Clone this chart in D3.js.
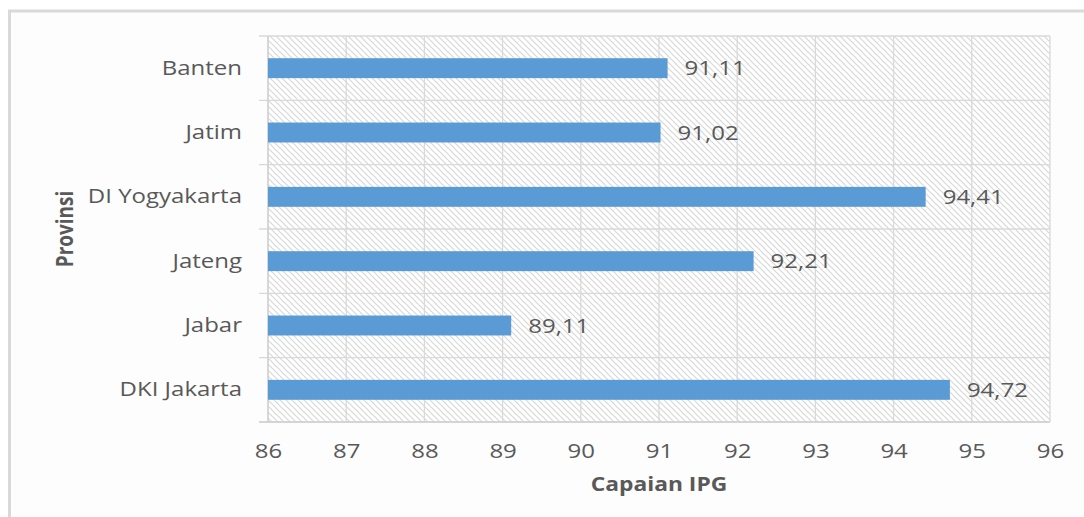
<!DOCTYPE html>
<html>
<head>
<meta charset="utf-8">
<script src="https://cdn.jsdelivr.net/npm/d3@7"></script>
<style>
  html, body { margin: 0; padding: 0; background: #fff; }
  svg { display: block; }
  text { font-family: "Open Sans", sans-serif; fill: #595959; }
</style>
</head>
<body>
<svg id="chart" width="1084" height="517"></svg>
<script>
// Provinces (top to bottom) and their IPG scores
const provinces = ["Banten", "Jatim", "DI Yogyakarta", "Jateng", "Jabar", "DKI Jakarta"];
const ipgValues = [91.11, 91.02, 94.41, 92.21, 89.11, 94.72];
const xTicks = [86, 87, 88, 89, 90, 91, 92, 93, 94, 95, 96];
const xTitle = "Capaian IPG";
const yTitle = "Provinsi";

const data = provinces.map((p, i) => ({ name: p, value: ipgValues[i] }));

const W = 1084, H = 517;
const plot = { left: 268, right: 1050, top: 36, bottom: 422 };
const SX = 1.2; // wide letterforms
const fmt = v => v.toFixed(2).replace(".", ",");

const svg = d3.select("#chart");

// chart frame
svg.append("rect")
  .attr("x", 9.5).attr("y", 11)
  .attr("width", W + 20).attr("height", H + 20)
  .attr("fill", "#fdfdfd")
  .attr("stroke", "#d9d9d9").attr("stroke-width", 3);

// diagonal hatch for the plot background
const defs = svg.append("defs");
const pat = defs.append("pattern")
  .attr("id", "hatch")
  .attr("patternUnits", "userSpaceOnUse")
  .attr("width", 6).attr("height", 6);
pat.append("rect").attr("width", 6).attr("height", 6).attr("fill", "#ffffff");
pat.append("path")
  .attr("d", "M-1,-1 L7,7 M-7,-1 L1,7 M5,-1 L13,7")
  .attr("stroke", "#d6d6d6").attr("stroke-width", 1.1);

const x = d3.scaleLinear()
  .domain([xTicks[0], xTicks[xTicks.length - 1]])
  .range([plot.left, plot.right]);

const y = d3.scaleBand()
  .domain(provinces)
  .range([plot.top, plot.bottom])
  .paddingInner(0.69)
  .paddingOuter(0.345);

const band = (plot.bottom - plot.top) / provinces.length;

svg.append("rect")
  .attr("x", plot.left).attr("y", plot.top)
  .attr("width", plot.right - plot.left).attr("height", plot.bottom - plot.top)
  .attr("fill", "url(#hatch)");

// vertical gridlines
svg.append("g")
  .selectAll("line")
  .data(xTicks)
  .join("line")
  .attr("x1", d => x(d)).attr("x2", d => x(d))
  .attr("y1", plot.top).attr("y2", plot.bottom)
  .attr("stroke", "#d9d9d9").attr("stroke-width", 1.3);

// horizontal gridlines at category boundaries (with short outer ticks)
const bounds = d3.range(provinces.length + 1).map(i => plot.top + i * band);
svg.append("g")
  .selectAll("line")
  .data(bounds)
  .join("line")
  .attr("x1", plot.left - 9).attr("x2", plot.right)
  .attr("y1", d => d).attr("y2", d => d)
  .attr("stroke", "#d9d9d9").attr("stroke-width", 1.3);

// left axis line
svg.append("line")
  .attr("x1", plot.left).attr("x2", plot.left)
  .attr("y1", plot.top).attr("y2", plot.bottom)
  .attr("stroke", "#d0d0d0").attr("stroke-width", 1.3);

// bars
svg.append("g")
  .selectAll("rect")
  .data(data)
  .join("rect")
  .attr("x", x(xTicks[0]))
  .attr("y", d => y(d.name))
  .attr("width", d => x(d.value) - x(xTicks[0]))
  .attr("height", y.bandwidth())
  .attr("fill", "#5b9bd5");

// value labels
svg.append("g")
  .selectAll("text")
  .data(data)
  .join("text")
  .attr("transform", d => `translate(${x(d.value) + 17},${y(d.name) + y.bandwidth() / 2}) scale(${SX},1)`)
  .attr("dy", "0.36em")
  .attr("font-size", 20)
  .text(d => fmt(d.value));

// bottom axis
const xAxis = svg.append("g")
  .attr("transform", `translate(0,${plot.bottom})`)
  .call(d3.axisBottom(x).tickValues(xTicks).tickSize(0).tickPadding(22).tickFormat(d3.format("d")));
xAxis.select(".domain").remove();
xAxis.selectAll("text")
  .attr("font-size", 20)
  .attr("fill", "#595959")
  .attr("font-family", "Open Sans, sans-serif")
  .attr("transform", `scale(${SX},1)`);
xAxis.append("line")
  .attr("x1", plot.left - 9).attr("x2", plot.right)
  .attr("stroke", "#d0d0d0").attr("stroke-width", 1.3);

// left axis labels
const yAxis = svg.append("g")
  .attr("transform", `translate(${plot.left},0)`)
  .call(d3.axisLeft(y).tickSize(0).tickPadding(0));
yAxis.select(".domain").remove();
yAxis.selectAll("text")
  .attr("x", 0)
  .attr("font-size", 20)
  .attr("fill", "#595959")
  .attr("font-family", "Open Sans, sans-serif")
  .attr("transform", `translate(-26,0) scale(${SX},1)`);

// axis titles
svg.append("text")
  .attr("transform", `translate(${(plot.left + plot.right) / 2},491) scale(${SX},1)`)
  .attr("text-anchor", "middle")
  .attr("font-size", 19)
  .attr("font-weight", "bold")
  .text(xTitle);

svg.append("text")
  .attr("transform", `translate(73,${(plot.top + plot.bottom) / 2}) rotate(-90) scale(1,${SX})`)
  .attr("text-anchor", "middle")
  .attr("font-size", 19)
  .attr("font-weight", "bold")
  .text(yTitle);
</script>
</body>
</html>
